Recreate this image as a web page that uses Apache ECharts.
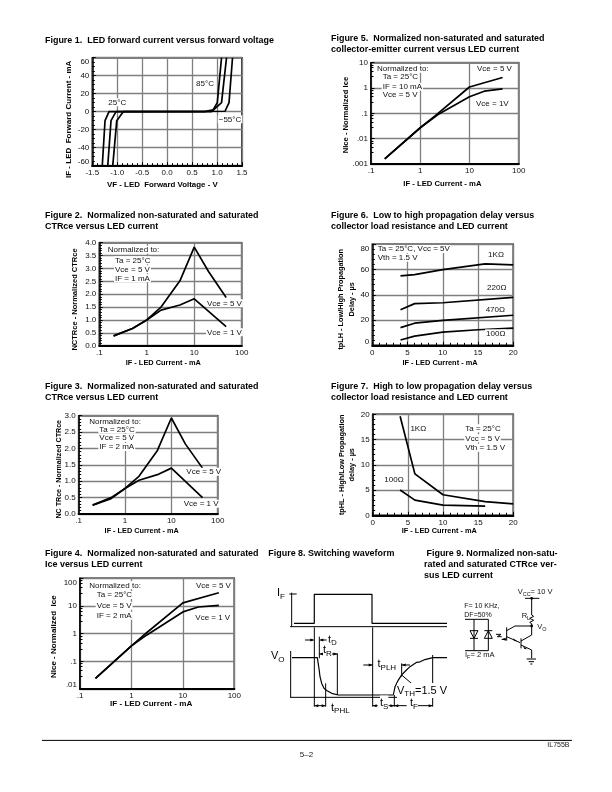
<!DOCTYPE html>
<html>
<head>
<meta charset="utf-8">
<style>html,body{margin:0;padding:0;background:#fff}#c{width:612px;height:792px}</style>
<script src="https://cdn.jsdelivr.net/npm/echarts@6/dist/echarts.min.js"></script>
</head>
<body>
<div id="c"></div>
<script>
// ---- data ----
const fig1Minus55 = [[-1.30,-60],[-1.245,-10],[-1.165,0],[1.16,0.5],[1.24,10],[1.31,60]];
const fig1At25 = [[-1.19,-60],[-1.125,-10],[-1.025,0],[0.89,0],[1.09,10],[1.19,60]];
const fig1At85 = [[-1.09,-60],[-1.01,-10],[-0.88,0],[0.75,0],[0.92,2],[1.005,10],[1.09,60]];
const fig5Vce5 = [[0.19,0.0016],[1,0.027],[2,0.08],[10,1.1],[47,2.6]];
const fig5Vce1 = [[0.19,0.0016],[1,0.027],[2.3,0.09],[10,0.45],[20,0.75],[47,0.92]];
const fig2Vce5 = [[0.2,0.38],[0.5,0.67],[1,1.0],[2,1.5],[5,2.52],[10,3.83],[20,2.88],[47,1.87]];
const fig2Vce1 = [[0.2,0.38],[0.5,0.67],[1,1.0],[2,1.38],[5,1.58],[10,1.82],[47,0.74]];
const fig3Vce5 = [[0.2,0.27],[0.5,0.5],[1,0.78],[2,1.15],[5,1.94],[10,2.93],[20,2.14],[47,1.4]];
const fig3Vce1 = [[0.2,0.27],[0.5,0.47],[1,0.78],[2,1.03],[5,1.2],[10,1.4],[47,0.5]];
const fig4Vce5 = [[0.2,0.024],[1,0.36],[2,1.1],[10,13],[50,30]];
const fig4Vce1 = [[0.2,0.024],[1,0.36],[2,0.9],[10,6.1],[20,9.2],[50,10.5]];
const fig6R1k = [[4,55],[6,56],[10,60],[16,64.5],[20,63.7]];
const fig6R220 = [[4,28.2],[6,33],[10,33.7],[20,37.9]];
const fig6R470 = [[4,14],[6,17.5],[10,19.8],[20,23.8]];
const fig6R100 = [[4,4.2],[6,7.3],[10,10.4],[15,12.3],[20,13.6]];
const fig7R1k = [[3.9,19.6],[6,8.2],[10,4.07],[16,2.7],[20,2.27]];
const fig7R100 = [[3.9,5],[6,3],[10,2],[16,1.8]];
const waveIF = [[2,0],[22.3,0],[22.3,1],[80,1],[80,0],[155,0]];
const waveVO = [[0,1],[25.3,1],[26.3,1],[27,0.71],[28,0.49],[29.7,0.31],[32,0.18],[34.7,0.12],[39.7,0.045],[46.3,0],[101.3,0],[103,0.22],[106.3,0.4],[109.7,0.54],[113.7,0.65],[118,0.76],[124.7,0.875],[128,0.89],[133,0.95],[140.7,1],[155,1]];
const figureTitles = [
  "Figure 1.  LED forward current versus forward voltage",
  "Figure 5.  Normalized non-saturated and saturated\ncollector-emitter current versus LED current",
  "Figure 2.  Normalized non-saturated and saturated\nCTRce versus LED current",
  "Figure 6.  Low to high propagation delay versus\ncollector load resistance and LED current",
  "Figure 3.  Normalized non-saturated and saturated\nCTRce versus LED current",
  "Figure 7.  High to low propagation delay versus\ncollector load resistance and LED current",
  "Figure 4.  Normalized non-saturated and saturated\nIce versus LED current",
  "Figure 8. Switching waveform",
  " Figure 9. Normalized non-satu-\nrated and saturated CTRce ver-\nsus LED current"
];

// ---- layout ----
const FONT = '"Liberation Sans", Arial, sans-serif';
const titlePos = [[45,35],[331,33],[45,210],[331,210],[45,381],[331,381],[45,548],[268.3,548],[424,548]];
const decimal = v => v.toFixed(1);
const plain = v => String(v);
const logLabel = v => String(+v.toPrecision(1)).replace(/^0\./, '.');

const plots = [
 {rect:[92.3,57.7,242,165.7], x:{min:-1.5,max:1.5,interval:.5,fmt:decimal,minor:5}, y:{min:-60,max:60,interval:20,fmt:plain,minor:4,ends:true},
  xn:['VF - LED  Forward Voltage - V',7.9,14,4.8], yn:['IF - LED  Forward Current - mA',8,18,-7.6],
  series:[['-55°C',fig1Minus55],['25°C',fig1At25],['85°C',fig1At85]]},
 {rect:[371,62.7,518.7,164], log:[1,1], x:{min:.1,max:100,fmt:logLabel}, y:{min:.001,max:10,fmt:logLabel,minor:5},
  xn:['IF - LED Current - mA',7.7,14,2.5], yn:['NIce - Normalized Ice',7.6,20,-1.7],
  series:[['Vce = 5 V',fig5Vce5],['Vce = 1 V',fig5Vce1]]},
 {rect:[99.3,242.7,241.7,345.7], log:[1,0], x:{min:.1,max:100,fmt:logLabel}, y:{min:0,max:4,interval:.5,fmt:decimal,minor:5,shift:1.5},
  xn:['IF - LED Current - mA',7.4,12,7.2], yn:['NCTRce - Normalized CTRce',7.5,18.6,-5.3],
  series:[['Vce = 5 V',fig2Vce5],['Vce = 1 V',fig2Vce1]]},
 {rect:[372.3,244.3,513.3,345.3], x:{min:0,max:20,interval:5,fmt:plain,minor:5}, y:{min:0,max:80,interval:20,fmt:plain,minor:5,ends:true},
  xn:['IF - LED Current - mA',7.4,12,2.8], yn:['tpLH - Low/High Propagation\nDelay - µs',7.3,15.5,-4.5],
  series:[['1KΩ',fig6R1k],['220Ω',fig6R220],['470Ω',fig6R470],['100Ω',fig6R100]]},
 {rect:[78.7,415.7,217.7,514], log:[1,0], x:{min:.1,max:100,fmt:logLabel}, y:{min:0,max:3,interval:.5,fmt:decimal,minor:5,shift:1.5},
  xn:['IF - LED Current - mA',7.3,12,6.5], yn:['NC TRce - Normalized CTRce',7.1,14.7,-4.4],
  series:[['Vce = 5 V',fig3Vce5],['Vce = 1 V',fig3Vce1]]},
 {rect:[372.7,414.3,513.3,515.3], x:{min:0,max:20,interval:5,fmt:plain,minor:5}, y:{min:0,max:20,interval:5,fmt:plain,minor:5,shift:5},
  xn:['IF - LED Current - mA',7.4,10,3.7], yn:['tpHL - High/Low Propagation\ndelay - µs',7.3,15,0],
  series:[['1KΩ',fig7R1k],['100Ω',fig7R100]]},
 {rect:[80,578.3,234.3,689], log:[1,1], x:{min:.1,max:100,fmt:logLabel}, y:{min:.01,max:100,fmt:logLabel,ends:true,minor:5},
  xn:['IF - LED Current - mA',8.1,9,6], yn:['NIce - Normalized  Ice',8,21,-3],
  series:[['Vce = 5 V',fig4Vce5],['Vce = 1 V',fig4Vce1]]}
];

const notes = [
 ['25°C',117.3,102.3,'center'],['85°C',205,83.3,'center'],['−55°C',230,119.3,'center'],
 ['Normalized to:',376,68.7],['Ta = 25°C',381.7,76.7],['IF = 10 mA',381.7,86.7],['Vce = 5 V',381.7,95],['Vce = 5 V',476,68.7],['Vce = 1V',475,103.3],
 ['Normalized to:',106.7,249.7],['Ta = 25°C',114,260.3],['Vce = 5 V',114,269.3],['IF = 1 mA',114,278.3],['Vce = 5 V',206,303.3],['Vce = 1 V',206,332.3],
 ['Normalized to:',88.3,421.3],['Ta = 25°C',98.3,429.3],['Vce = 5 V',98.3,438],['IF = 2 mA',98.3,447],['Vce = 5 V',185.3,471.7],['Vce = 1 V',182.7,503.7],
 ['Normalized to:',88.3,585.3],['Ta = 25°C',95.7,595],['Vce = 5 V',95.7,605.7],['IF = 2 mA',95.7,615.7],['Vce = 5 V',195,585.3],['Vce = 1 V',194.3,617.3],
 ['Ta = 25°C, Vcc = 5V',376.7,249],['Vth = 1.5 V',376.7,257.7],['1KΩ',496,254.3,'center'],['220Ω',496.7,287.7,'center'],['470Ω',495.3,309.3,'center'],['100Ω',495.7,333.3,'center'],
 ['1KΩ',418.3,428.3,'center'],['Ta = 25°C',464.3,428.3],['Vcc = 5 V',464.3,438.3],['Vth = 1.5 V',464.3,447.7],['100Ω',394,479.3,'center']
];
const circuitNotes = [['F= 10 KHz,',464.3,606],['DF=50%',464.3,615]];

// ---- build option ----
const grid=[], xAxis=[], yAxis=[], series=[], title=[], graphic=[];

figureTitles.forEach((t,i)=>title.push({text:t,left:titlePos[i][0],top:titlePos[i][1],padding:0,
  textStyle:{fontFamily:FONT,fontSize:8.95,fontWeight:'bold',color:'#000',lineHeight:11}}));

function axisOf(a, isLog, dim, gi, nm){
  const isX = dim==='x';
  const pad = a.shift ? [0,0,a.shift*2,0] : 0;
  const s = nm[3];
  const o = {
    gridIndex:gi, type:isLog?'log':'value', logBase:10, min:a.min, max:a.max,
    name:nm[0], nameLocation:'middle', nameGap:nm[2], nameRotate:isX?0:90, nameMoveOverlap:false,
    nameTextStyle:{fontFamily:FONT,fontSize:nm[1],fontWeight:'bold',color:'#000',lineHeight:nm[1]+3.2,
      padding:isX?[0,s*2,0,0]:(s<0?[0,-s*2,0,0]:[0,0,0,s*2])},
    axisLine:{show:true,onZero:false,lineStyle:{color:'#000',width:isX?2.2:1.5}},
    axisTick:{show:!!a.minor,inside:true,length:3.5,lineStyle:{color:'#000',width:1}},
    minorTick:{show:!!a.minor,splitNumber:a.minor||5,length:2.5,lineStyle:{color:'#000',width:1}},
    splitLine:{show:true,lineStyle:{color:'#7f7f7f',width:1.3}},
    minorSplitLine:{show:false},
    axisLabel:{fontFamily:FONT,fontSize:8,color:'#111',margin:3,formatter:a.fmt,padding:pad,showMinLabel:true,showMaxLabel:true}
  };
  if(a.interval) o.interval=a.interval;
  if(a.ends){o.axisLabel.verticalAlignMaxLabel='top';o.axisLabel.verticalAlignMinLabel='bottom';}
  return o;
}

plots.forEach((p,i)=>{
  const [l,t,r,b]=p.rect;
  grid.push({left:l,top:t,width:r-l,height:b-t,show:true,borderColor:'#000',borderWidth:1.5,backgroundColor:'transparent',containLabel:false});
  const lg=p.log||[0,0];
  xAxis.push(axisOf(p.x,lg[0],'x',i,p.xn));
  yAxis.push(axisOf(p.y,lg[1],'y',i,p.yn));
  p.series.forEach(([name,data])=>series.push({type:'line',name:name,xAxisIndex:i,yAxisIndex:i,data:data,showSymbol:false,symbol:'none',
    smooth:false,clip:true,z:5,lineStyle:{color:'#000',width:1.7}}));
});

// switching-waveform plots (hidden axes, own scales)
[[292,594.3,155,29,waveIF,'IF'],[292,657.7,155,37.3,waveVO,'VO']].forEach(([l,t,w,h,d,n])=>{
  const gi=grid.length;
  grid.push({left:l,top:t,width:w,height:h,show:false});
  xAxis.push({gridIndex:gi,type:'value',min:0,max:155,show:false});
  yAxis.push({gridIndex:gi,type:'value',min:0,max:1,show:false});
  series.push({type:'line',name:n,xAxisIndex:gi,yAxisIndex:gi,data:d,showSymbol:false,symbol:'none',clip:false,z:5,lineStyle:{color:'#000',width:1.2}});
});

// text notes
notes.forEach(([t,x,y,al])=>graphic.push({type:'text',x:x,y:y,z:20,style:{text:t,font:'8px '+FONT,fill:'#111',textAlign:al||'left',textVerticalAlign:'middle',backgroundColor:'#fff',padding:[0,1]}}));
circuitNotes.forEach(([t,x,y])=>graphic.push({type:'text',x:x,y:y,z:20,style:{text:t,font:'7px '+FONT,fill:'#111',textAlign:'left',textVerticalAlign:'middle'}}));

// schematic helpers: zoomed-crop coordinates
const line=(pts,w,c)=>graphic.push({type:'polyline',z:15,shape:{points:pts},style:{stroke:c||'#000',lineWidth:w||1,fill:null}});
const P8=(x,y)=>[260+x/3,540+y/3], P9=(x,y)=>[420+x/3,540+y/3];
const s8=(...c)=>{const p=[];for(let i=0;i<c.length;i+=2)p.push(P8(c[i],c[i+1]));line(p,1);};
const s9=(...c)=>{const p=[];for(let i=0;i<c.length;i+=2)p.push(P9(c[i],c[i+1]));line(p,1);};
const arrow=(tip,dx,dy)=>{const L=4,W=1.5;graphic.push({type:'polygon',z:15,shape:{points:[tip,[tip[0]-dx*L-dy*W,tip[1]-dy*L-dx*W],[tip[0]-dx*L+dy*W,tip[1]-dy*L+dx*W]]},style:{fill:'#000'}});};
const rich=(b,sub,x,y,after,al)=>graphic.push({type:'text',x:x,y:y,z:20,style:{text:'{m|'+b+'}{s|'+sub+'}'+(after?'{m|'+after+'}':''),textAlign:al||'left',textVerticalAlign:'middle',fill:'#000',
  rich:{m:{fontFamily:FONT,fontSize:11,fill:'#000',lineHeight:15,verticalAlign:'middle'},s:{fontFamily:FONT,fontSize:8,fill:'#000',lineHeight:15,verticalAlign:'bottom'}},backgroundColor:'#fff'}});

// Figure 8 frame and timing marks
s8(95,158,95,260); s8(90,260,561,260); s8(88,162,110,162);
s8(92,333,92,472); s8(90,472,561,472);
s8(163,262,163,500); s8(178,290,178,355); s8(232,340,232,465); s8(197,430,197,500);
s8(338,262,338,500); s8(403,465,403,500); s8(425,370,425,410); s8(518,345,518,500);
s8(135,300,160,300); arrow(P8(163,300),1,0); s8(181,300,200,300); arrow(P8(178,300),-1,0);
s8(178,342,232,342); arrow(P8(178,342),-1,0); arrow(P8(232,342),1,0);
s8(163,497,197,497); arrow(P8(163,497),-1,0); arrow(P8(197,497),1,0);
s8(338,497,353,497); arrow(P8(338,497),-1,0); s8(385,497,403,497); arrow(P8(403,497),1,0);
s8(403,497,440,497); arrow(P8(403,497),-1,0); s8(470,497,518,497); arrow(P8(518,497),1,0);
s8(310,375,338,375); arrow(P8(338,375),1,0); s8(425,375,450,375); arrow(P8(425,375),-1,0);
s8(425,405,460,435);
rich('I','F',277,593); rich('V','O',271,656);
rich('t','D',328,639.5); rich('t','R',323,650); rich('t','PHL',331,707.5);
rich('t','S',380,703); rich('t','F',410,703); rich('t','PLH',377.5,664);
rich('V','TH',397,690.5,'=1.5 V');

// Figure 9 circuit
s9(315,175,358,175); s9(335,175,335,225); s9(335,225,341,229,329,235,341,241,329,247,335,251,335,258);
s9(335,258,285,258,260,272); s9(260,262,260,302); s9(260,290,300,308);
s9(303,295,303,325); s9(303,303,335,285,335,258); s9(303,315,335,330,335,355);
s9(320,357,348,357); s9(326,365,342,365); s9(331,372,337,372);
s9(135,238,205,238); s9(162,238,162,332); s9(205,238,205,332); s9(135,332,205,332);
s9(150,272,174,272,162,295,150,272); s9(150,295,174,295);
s9(193,295,217,295,205,272,193,295); s9(193,272,217,272);
s9(228,283,243,283,232,290,245,290); s9(245,298,258,298); arrow(P9(245,298),-1,0);
arrow(P9(322,328),.9,.42); arrow(P9(292,304),.9,.42);
[[335,175],[335,258]].forEach(c=>{const p=P9(c[0],c[1]);graphic.push({type:'circle',z:16,shape:{cx:p[0],cy:p[1],r:1.4},style:{fill:'#000'}});});
const r9=(b,sub,x,y,after)=>graphic.push({type:'text',x:420+x/3,y:540+y/3,z:20,style:{text:'{m|'+b+'}{s|'+sub+'}'+(after?'{m|'+after+'}':''),textVerticalAlign:'middle',
  rich:{m:{fontFamily:FONT,fontSize:7.5,fill:'#111',lineHeight:11,verticalAlign:'middle'},s:{fontFamily:FONT,fontSize:5.5,fill:'#111',lineHeight:11,verticalAlign:'bottom'}}}});
r9('V','CC',293,155,'= 10 V'); r9('R','L',305,228); r9('V','O',352,260); r9('I','F',135,344,'= 2 mA');

// footer
graphic.push({type:'line',z:15,shape:{x1:42,y1:740.4,x2:572,y2:740.4},style:{stroke:'#000',lineWidth:1}});
graphic.push({type:'text',x:569.5,y:745.5,style:{text:'IL755B',font:'7px '+FONT,fill:'#222',textAlign:'right',textVerticalAlign:'middle'}});
graphic.push({type:'text',x:306.5,y:754.5,style:{text:'5–2',font:'8px '+FONT,fill:'#222',textAlign:'center',textVerticalAlign:'middle'}});

const chart = echarts.init(document.getElementById('c'),null,{renderer:'canvas',width:612,height:792});
chart.setOption({animation:false,backgroundColor:'#fff',tooltip:{show:false},legend:{show:false},title,grid,xAxis,yAxis,series,graphic:{elements:graphic}});
</script>
</body>
</html>
